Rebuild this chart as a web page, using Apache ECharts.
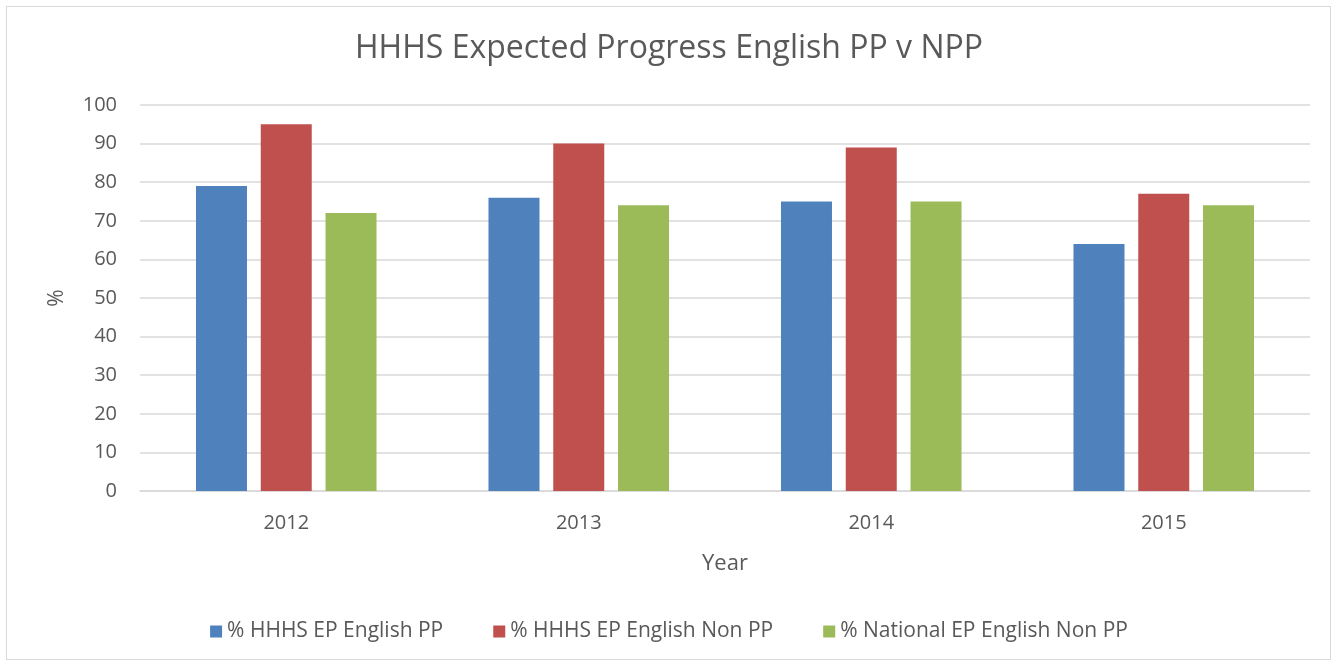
<!DOCTYPE html>
<html>
<head>
<meta charset="utf-8">
<script src="https://cdn.jsdelivr.net/npm/echarts@6/dist/echarts.min.js"></script>
<style>
  html, body { margin: 0; padding: 0; background: #fff; }
  #frame {
    position: absolute; left: 6px; top: 6px; width: 1325px; height: 654px;
    border: 1px solid #d9d9d9; box-sizing: border-box;
  }
  #chart { position: absolute; left: 0; top: 0; width: 1338px; height: 667px; }
</style>
</head>
<body>
<div id="frame"></div>
<div id="chart"></div>
<script>
const years = ['2012', '2013', '2014', '2015'];
const hhhsPP = [79, 76, 75, 64];
const hhhsNonPP = [95, 90, 89, 77];
const nationalNonPP = [72, 74, 75, 74];

const seriesNames = [
  '% HHHS EP English PP',
  '% HHHS EP English Non PP',
  '% National EP English Non PP',
];
const colors = ['#4f81bd', '#c0504d', '#9bbb59'];

const font = '"Open Sans", sans-serif';
const chart = echarts.init(document.getElementById('chart'), null, { renderer: 'canvas' });

const option = {
  animation: false,
  title: {
    text: 'HHHS Expected Progress English PP v NPP',
    left: 'center',
    top: 28,
    textStyle: { color: '#595959', fontSize: 32, fontWeight: 'normal', fontFamily: font },
  },
  grid: { left: 140, right: 28, top: 105, bottom: 176, containLabel: false },
  legend: {
    bottom: 20,
    left: 'center',
    itemWidth: 12,
    itemHeight: 12,
    itemGap: 50,
    icon: 'rect',
    textStyle: { color: '#595959', fontSize: 21, fontFamily: font },
    data: seriesNames,
  },
  xAxis: {
    type: 'category',
    data: years,
    name: 'Year',
    nameLocation: 'middle',
    nameGap: 62,
    nameTextStyle: { color: '#595959', fontSize: 22, fontFamily: font },
    axisLine: { lineStyle: { color: '#d9d9d9', width: 1.5 } },
    axisTick: { show: false },
    axisLabel: { color: '#595959', fontSize: 20, margin: 22, fontFamily: font },
  },
  yAxis: {
    type: 'value',
    min: 0,
    max: 100,
    interval: 10,
    name: '%',
    nameLocation: 'middle',
    nameGap: 72,
    nameRotate: 90,
    nameTextStyle: { color: '#595959', fontSize: 21, fontFamily: font },
    axisLine: { show: false },
    axisTick: { show: false },
    axisLabel: { color: '#595959', fontSize: 20, margin: 23, fontFamily: font },
    splitLine: { lineStyle: { color: '#d9d9d9', width: 1.5 } },
  },
  series: [hhhsPP, hhhsNonPP, nationalNonPP].map((data, i) => ({
    name: seriesNames[i],
    type: 'bar',
    data: data,
    barWidth: 51,
    barGap: '27%',
    itemStyle: { color: colors[i] },
  })),
};

chart.setOption(option);
</script>
</body>
</html>
